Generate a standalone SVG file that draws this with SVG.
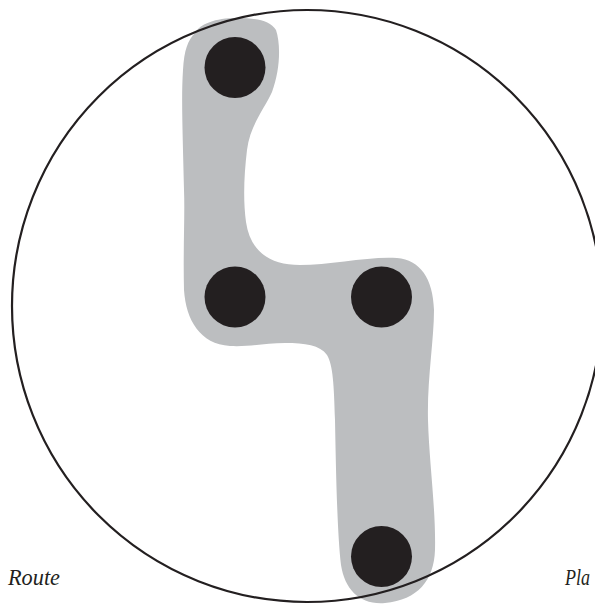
<svg xmlns="http://www.w3.org/2000/svg" width="595" height="608" viewBox="0 0 595 608">
<style>
.dot{fill:#231f20}
.blob{fill:#bcbec0}
.ring{fill:none;stroke:#231f20;stroke-width:2.2}
.lbl{font-family:"Liberation Serif",serif;font-style:italic;font-size:24px;fill:#231f20}
</style>
<rect width="595" height="608" fill="#ffffff"/>
<g id="route-blob">
<path class="blob" d="M 195 33 C 200 24, 215 18, 237 18 C 255 18, 270 20, 276 30 C 281 45, 280 70, 272 92 C 265 108, 250 125, 247 150 C 244 175, 243 200, 246 222 C 250 250, 268 265, 300 265 C 330 265, 370 256, 397 258 C 420 260, 433 278, 434 310 C 434 340, 427 380, 428 420 C 429 460, 436 510, 435 550 C 434 580, 418 600, 385 603 C 360 605, 345 590, 341 565 C 337 530, 336 470, 335 420 C 334 385, 333 365, 327 355 C 320 345, 305 343, 285 343 C 265 343, 250 347, 230 346 C 200 344, 186 320, 184 290 C 183 250, 185 215, 184 190 C 183 140, 181 100, 183 70 C 184 50, 188 40, 195 33 Z"/>
</g>
<g id="boundary">
<ellipse class="ring" cx="307" cy="306" rx="295" ry="296"/>
</g>
<g id="node-top"><circle class="dot" cx="235" cy="67.5" r="30.5"/></g>
<g id="node-mid-left"><circle class="dot" cx="235" cy="297" r="30.5"/></g>
<g id="node-mid-right"><circle class="dot" cx="381.5" cy="297" r="30.5"/></g>
<g id="node-bottom"><circle class="dot" cx="381.5" cy="556.5" r="30.5"/></g>
<g id="connectors"></g>
<g id="labels">
<text class="lbl" x="8" y="585" textLength="52" lengthAdjust="spacingAndGlyphs">Route</text>
<text class="lbl" x="565" y="585" textLength="25" lengthAdjust="spacingAndGlyphs">Pla</text>
</g>
</svg>
